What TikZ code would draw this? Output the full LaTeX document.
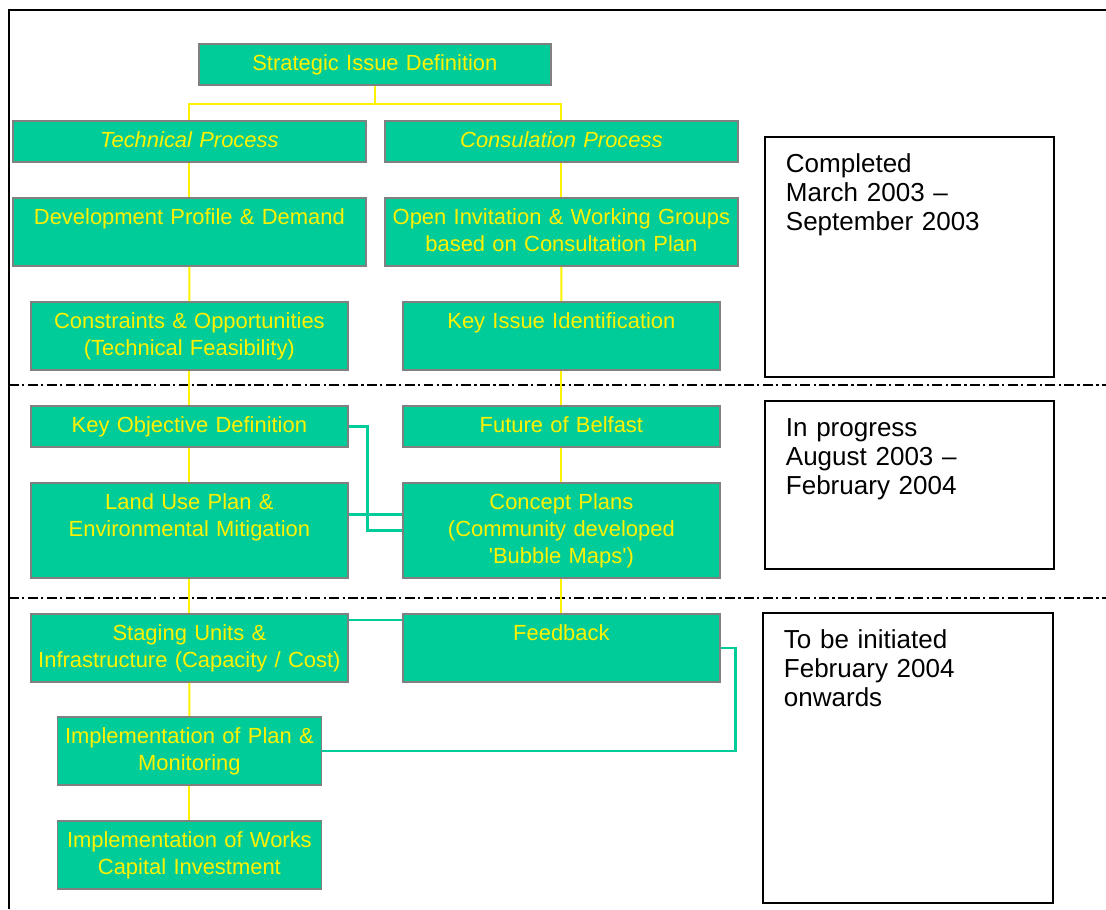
\documentclass[tikz,border=0pt]{standalone}
\usepackage{fontspec}
\setmainfont{Liberation Sans}
\usetikzlibrary{positioning}
\definecolor{boxgreen}{HTML}{00CC99}
\definecolor{boxedge}{HTML}{808080}

\begin{document}
\begin{tikzpicture}[
  x=0.025cm, y=-0.025cm,
  task/.style={rectangle,draw=boxedge,line width=1.2pt,fill=boxgreen,text=yellow,
    anchor=north west,inner xsep=0pt,inner ysep=7.8pt,text height=11.2pt,align=center,
    font=\fontsize{15.6pt}{19.2pt}\selectfont},
  one/.style={text depth=2.4pt},
  two/.style={text depth=21.6pt},
  three/.style={text depth=40.8pt},
  stage/.style={rectangle,draw=black,line width=1.3pt,anchor=north west,
    inner xsep=0.525cm,inner ysep=12.1pt,text height=13.2pt,align=left,
    font=\fontsize{18.5pt}{20.6pt}\selectfont},
  flow/.style={draw=yellow,line width=1.3pt},
  link/.style={draw=boxgreen,line width=1.9pt},
  phase/.style={line width=1.5pt,dash pattern=on 7pt off 2.4pt on 1.6pt off 2.4pt}
]
\useasboundingbox (0,0) rectangle (1106,909);

% FRAME
\draw[line width=2.1pt] (1106,10) -- (9,10) -- (9,909);

% PHASE LINES
\draw[phase] (9,385) -- (1106,385);
\draw[phase] (9,598) -- (1106,598);

% TOP
\node[task,one,text width=8.8cm] (sid) at (198,43) {Strategic Issue Definition};
\node[task,one,text width=8.825cm] (tp) at (12,120) {\itshape Technical Process};
\node[task,one,text width=8.825cm] (cp) at (384,120) {\itshape Consulation Process};

% COMPLETED
\node[task,two,text width=8.825cm] (dpd) at (12,197) {Development Profile \& Demand};
\node[task,two,text width=8.825cm] (oig) at (384,197) {Open Invitation \& Working Groups\\based on Consultation Plan};
\node[task,two,text width=7.925cm] (co) at (30,301) {Constraints \& Opportunities\\(Technical Feasibility)};
\node[task,two,text width=7.925cm] (kii) at (402,301) {Key Issue Identification};

% IN PROGRESS
\node[task,one,text width=7.925cm] (kod) at (30,405) {Key Objective Definition};
\node[task,one,text width=7.925cm] (fob) at (402,405) {Future of Belfast};
\node[task,three,text width=7.925cm] (lu) at (30,482) {Land Use Plan \&\\Environmental Mitigation};
\node[task,three,text width=7.925cm] (cpl) at (402,482) {Concept Plans\\(Community developed\\\textquotesingle Bubble Maps\textquotesingle)};

% TO BE INITIATED
\node[task,two,text width=7.925cm] (su) at (30,613) {Staging Units \&\\Infrastructure (Capacity / Cost)};
\node[task,two,text width=7.925cm] (fb) at (402,613) {Feedback};
\node[task,two,text width=6.6cm] (ip) at (56.5,716) {Implementation of Plan \&\\Monitoring};
\node[task,two,text width=6.6cm] (iw) at (56.5,820) {Implementation of Works\\Capital Investment};

% STAGES
\node[stage,text width=6.175cm,text depth=133.3pt] (done) at (764,136) {Completed\\March 2003 --\\September 2003};
\node[stage,text width=6.175cm,text depth=82.1pt] (now) at (764,400) {In progress\\August 2003 --\\February 2004};
\node[stage,text width=6.2cm,text depth=168.9pt] (later) at (762,612) {To be initiated\\February 2004\\onwards};

% PROCESS FLOW
\draw[flow] (sid.south) -- ++(0,18) -| (tp.north);
\draw[flow] (sid.south) -- ++(0,18) -| (cp.north);

\draw[flow] (tp.south) -- (dpd.north);
\draw[flow] (dpd.south) -- (co.north);
\draw[flow] (co.south) -- (kod.north);
\draw[flow] (kod.south) -- (lu.north);
\draw[flow] (lu.south) -- (su.north);
\draw[flow] (su.south) -- (ip.north);
\draw[flow] (ip.south) -- (iw.north);

\draw[flow] (cp.south) -- (oig.north);
\draw[flow] (oig.south) -- (kii.north);
\draw[flow] (kii.south) -- (fob.north);
\draw[flow] (fob.south) -- (cpl.north);
\draw[flow] (cpl.south) -- (fb.north);

% CROSS LINKS
\draw[link] (kod.east) -- ++(19,0) |- (cpl.west);
\draw[link] ([yshift=0.39cm]lu.east) -- ([yshift=0.39cm]cpl.west);
\draw[link] ([yshift=-0.175cm]su.north east) -- ([yshift=-0.175cm]fb.north west);
\draw[link] (fb.east) -- ++(15,0) |- (ip.east);

\end{tikzpicture}
\end{document}
